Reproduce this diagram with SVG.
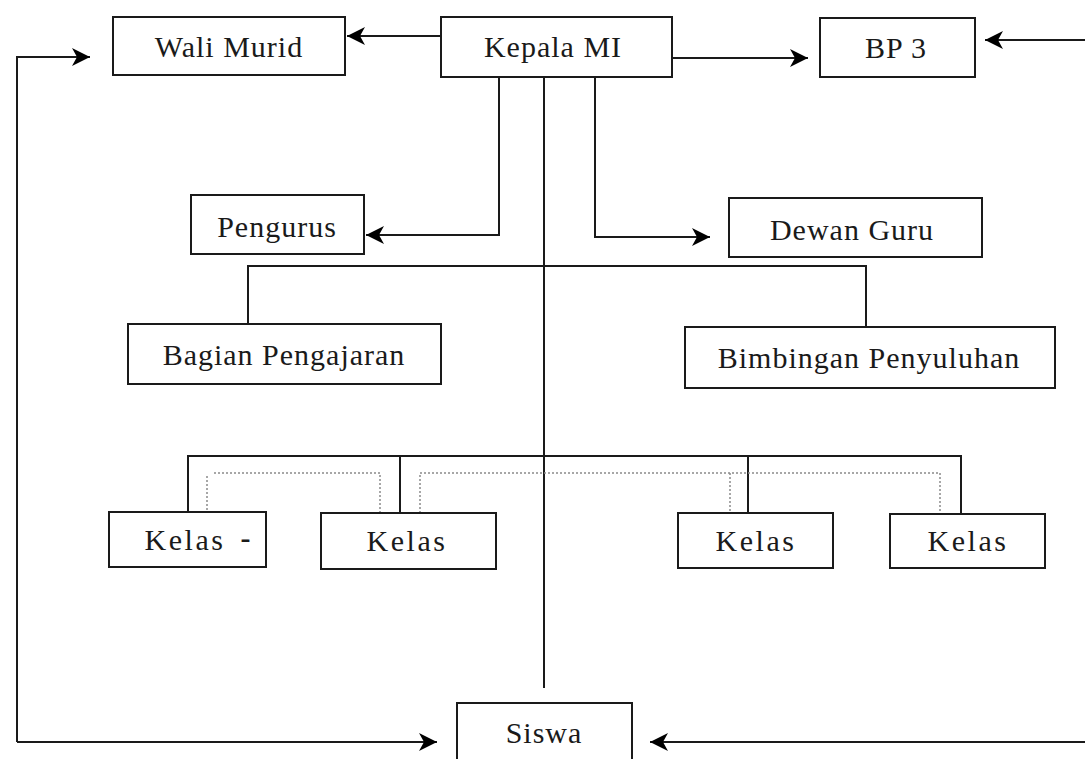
<svg xmlns="http://www.w3.org/2000/svg" width="1085" height="759" viewBox="0 0 1085 759">
<defs>
<marker id="ah" markerUnits="userSpaceOnUse" markerWidth="20" markerHeight="20" refX="18" refY="9" orient="auto">
<path d="M0,0 L18,9 L0,18 L5,9 z" fill="#000"/>
</marker>
<style>
.box{fill:#fff;stroke:#1a1a1a;stroke-width:2}
.t{font-family:"Liberation Serif","Times New Roman",serif;font-size:30px;fill:#1a1a1a;text-anchor:middle;letter-spacing:1px}
.k{letter-spacing:2.5px}
.ln{fill:none;stroke:#1a1a1a;stroke-width:2}
.ar{fill:none;stroke:#1a1a1a;stroke-width:2;marker-end:url(#ah)}
.dot{fill:none;stroke:#8a8a8a;stroke-width:1.5;stroke-dasharray:2 2}
</style>
</defs>
<rect width="1085" height="759" fill="#fff"/>
<g id="connectors">
<path class="ar" d="M441,36 H347"/>
<path class="ar" d="M672,58 H808"/>
<path class="ar" d="M1085,40 H985"/>
<path class="ar" d="M499,78 V235 H366"/>
<path class="ar" d="M595,78 V237 H710"/>
<path class="ln" d="M544,78 V688"/>
<path class="ar" d="M17,742 V57 H90"/>
<path class="ar" d="M17,742 H437"/>
<path class="ar" d="M1085,742 H650"/>
<path class="ln" d="M248,324 V266 H866 V327"/>
<path class="ln" d="M188,512 V456 H961 V514"/>
<path class="ln" d="M400,456 V513"/>
<path class="ln" d="M748,456 V513"/>
<path class="dot" d="M207,510 V476 M214,473 H380 V513"/>
<path class="dot" d="M420,513 V473 H940 V513"/>
<path class="dot" d="M730,473 V513"/>
</g>
<g id="wali-murid"><rect class="box" x="113" y="17" width="232" height="58"/><text class="t" x="229" y="57">Wali Murid</text></g>
<g id="kepala-mi"><rect class="box" x="441" y="17" width="231" height="60"/><text class="t" x="553" y="57">Kepala MI</text></g>
<g id="bp3"><rect class="box" x="820" y="18" width="155" height="59"/><text class="t" x="896" y="58">BP 3</text></g>
<g id="pengurus"><rect class="box" x="191" y="195" width="173" height="59"/><text class="t" x="277" y="237">Pengurus</text></g>
<g id="dewan-guru"><rect class="box" x="729" y="198" width="253" height="59"/><text class="t" x="852" y="240">Dewan Guru</text></g>
<g id="bagian-pengajaran"><rect class="box" x="128" y="324" width="313" height="60"/><text class="t" x="284" y="365">Bagian Pengajaran</text></g>
<g id="bimbingan-penyuluhan"><rect class="box" x="685" y="327" width="370" height="61"/><text class="t" x="869" y="368">Bimbingan Penyuluhan</text></g>
<g id="kelas-1"><rect class="box" x="109" y="512" width="157" height="55"/><text class="t k" x="185" y="550">Kelas</text><text class="t" x="246" y="548" style="font-weight:bold">-</text></g>
<g id="kelas-2"><rect class="box" x="321" y="513" width="175" height="56"/><text class="t k" x="407" y="551">Kelas</text></g>
<g id="kelas-3"><rect class="box" x="678" y="513" width="155" height="55"/><text class="t k" x="756" y="551">Kelas</text></g>
<g id="kelas-4"><rect class="box" x="890" y="514" width="155" height="54"/><text class="t k" x="968" y="551">Kelas</text></g>
<g id="siswa"><rect class="box" x="457" y="703" width="175" height="64"/><text class="t" x="544" y="743">Siswa</text></g>
</svg>
